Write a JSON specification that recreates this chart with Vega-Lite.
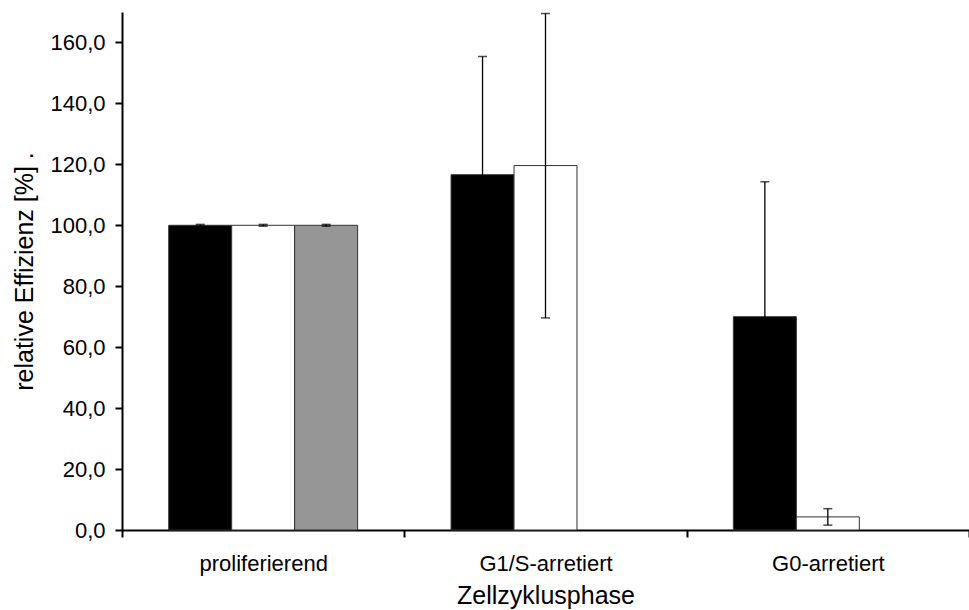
{
  "$schema": "https://vega.github.io/schema/vega-lite/v6.json",
  "width": 847,
  "height": 518,
  "autosize": {"type": "none"},
  "padding": {"left": 122, "top": 12, "right": 0, "bottom": 80},
  "background": "white",
  "config": {
    "font": "Liberation Sans",
    "view": {"stroke": null},
    "axis": {
      "labelFont": "Liberation Sans",
      "titleFont": "Liberation Sans",
      "labelFontSize": 22,
      "titleFontSize": 25,
      "labelColor": "#000000",
      "titleColor": "#000000",
      "titleFontWeight": "normal",
      "domainColor": "#000000",
      "tickColor": "#000000",
      "domainWidth": 2,
      "tickWidth": 2,
      "tickSize": 7,
      "grid": false
    }
  },
  "data": {
    "values": [
      {"phase": "proliferierend", "group": "A", "value": 100, "lo": 99.7, "hi": 100.3},
      {"phase": "proliferierend", "group": "B", "value": 100, "lo": 99.7, "hi": 100.3},
      {"phase": "proliferierend", "group": "C", "value": 100, "lo": 99.7, "hi": 100.3},
      {"phase": "G1/S-arretiert", "group": "A", "value": 116.6, "lo": 77.8, "hi": 155.4},
      {"phase": "G1/S-arretiert", "group": "B", "value": 119.6, "lo": 69.6, "hi": 169.5},
      {"phase": "G0-arretiert", "group": "A", "value": 70.0, "lo": 25.7, "hi": 114.3},
      {"phase": "G0-arretiert", "group": "B", "value": 4.3, "lo": 1.6, "hi": 7.0}
    ]
  },
  "encoding": {
    "x": {
      "field": "phase",
      "type": "nominal",
      "sort": ["proliferierend", "G1/S-arretiert", "G0-arretiert"],
      "scale": {"domain": ["proliferierend", "G1/S-arretiert", "G0-arretiert"], "paddingInner": 0, "paddingOuter": 0},
      "axis": {
        "title": "Zellzyklusphase",
        "labelAngle": 0,
        "tickBand": "extent",
        "labelPadding": 16,
        "titlePadding": 9
      }
    },
    "xOffset": {
      "field": "group",
      "type": "nominal",
      "scale": {"domain": ["A", "B", "C"], "paddingInner": 0, "paddingOuter": 0.742}
    }
  },
  "layer": [
    {
      "mark": {"type": "bar", "stroke": "#333333", "strokeWidth": 1},
      "encoding": {
        "y": {
          "field": "value",
          "type": "quantitative",
          "scale": {"domain": [0, 170], "nice": false},
          "axis": {
            "title": "relative Effizienz [%] .",
            "values": [0, 20, 40, 60, 80, 100, 120, 140, 160],
            "labelExpr": "replace(format(datum.value, '.1f'), '.', ',')",
            "labelPadding": 10,
            "titlePadding": 12
          }
        },
        "fill": {
          "field": "group",
          "type": "nominal",
          "scale": {"domain": ["A", "B", "C"], "range": ["#000000", "#ffffff", "#969696"]},
          "legend": null
        }
      }
    },
    {
      "mark": {"type": "rule", "color": "#000000", "strokeWidth": 1.3},
      "encoding": {
        "y": {"field": "lo", "type": "quantitative"},
        "y2": {"field": "hi"}
      }
    },
    {
      "mark": {"type": "tick", "orient": "horizontal", "color": "#000000", "size": 9, "thickness": 1.5},
      "encoding": {
        "y": {"field": "hi", "type": "quantitative"}
      }
    },
    {
      "mark": {"type": "tick", "orient": "horizontal", "color": "#000000", "size": 9, "thickness": 1.5},
      "encoding": {
        "y": {"field": "lo", "type": "quantitative"}
      }
    }
  ]
}
